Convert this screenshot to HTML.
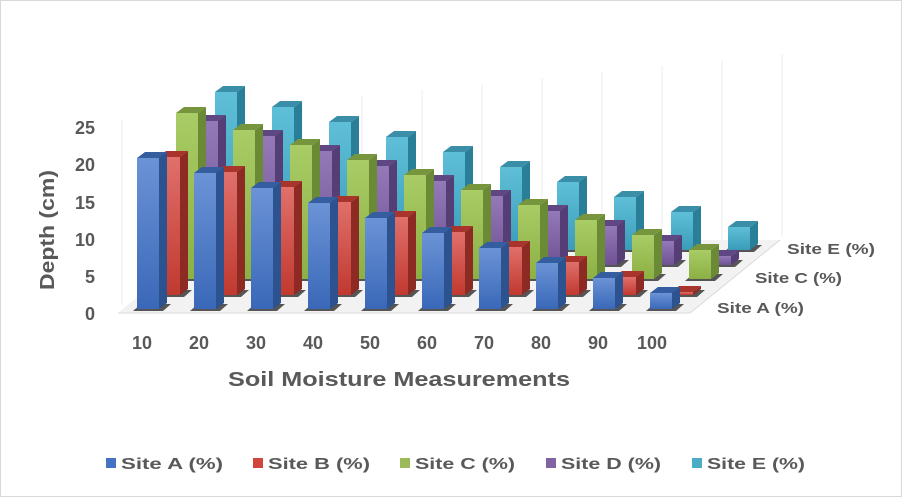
<!DOCTYPE html>
<html><head><meta charset="utf-8"><style>
html,body{margin:0;padding:0;background:#fff}
svg{display:block;font-family:"Liberation Sans",Arial,sans-serif}
</style></head><body>
<svg id="c" width="902" height="497" viewBox="0 0 902 497" xmlns="http://www.w3.org/2000/svg">
<defs>
<linearGradient id="gA" x1="0" y1="0" x2="0" y2="1"><stop offset="0" stop-color="#6b93d6"/><stop offset="1" stop-color="#3a68b8"/></linearGradient>
<linearGradient id="gB" x1="0" y1="0" x2="0" y2="1"><stop offset="0" stop-color="#e0706b"/><stop offset="1" stop-color="#c0392f"/></linearGradient>
<linearGradient id="gC" x1="0" y1="0" x2="0" y2="1"><stop offset="0" stop-color="#a9cc66"/><stop offset="1" stop-color="#8bb043"/></linearGradient>
<linearGradient id="gD" x1="0" y1="0" x2="0" y2="1"><stop offset="0" stop-color="#9479b8"/><stop offset="1" stop-color="#6e5293"/></linearGradient>
<linearGradient id="gE" x1="0" y1="0" x2="0" y2="1"><stop offset="0" stop-color="#5fbfd8"/><stop offset="1" stop-color="#3a9cb9"/></linearGradient>
</defs>
<rect x="0.5" y="0.5" width="901" height="496" fill="#fff" stroke="#d9d9d9"/>
<g id="grid" stroke="#ececec" stroke-width="1"></g>
<polygon points="118,313 690,313 780,240 205,240" fill="#f2f2f2"/>
<g id="bars"></g>
<line x1="118" y1="313" x2="690" y2="313" stroke="#d9d9d9"/>
<line x1="690" y1="313" x2="780" y2="240" stroke="#d9d9d9"/>
<g font-size="18" font-weight="bold" fill="#595959" text-anchor="end">
<text x="95" y="320">0</text><text x="95" y="283">5</text><text x="95" y="246">10</text>
<text x="95" y="209">15</text><text x="95" y="171">20</text><text x="95" y="134">25</text>
</g>
<text transform="translate(54,230) rotate(-90)" font-size="20" font-weight="bold" fill="#595959" text-anchor="middle" textLength="120" lengthAdjust="spacingAndGlyphs">Depth (cm)</text>
<g font-size="18" font-weight="bold" fill="#595959" text-anchor="middle">
<text x="142" y="349">10</text><text x="199" y="349">20</text><text x="256" y="349">30</text><text x="313" y="349">40</text><text x="370" y="349">50</text><text x="427" y="349">60</text><text x="484" y="349">70</text><text x="541" y="349">80</text><text x="598" y="349">90</text><text x="652" y="349">100</text>
</g>
<text x="228" y="386" font-size="20" font-weight="bold" fill="#595959" textLength="342" lengthAdjust="spacingAndGlyphs">Soil Moisture Measurements</text>
<g font-size="15" font-weight="bold" fill="#595959">
<text x="787" y="254" textLength="88" lengthAdjust="spacingAndGlyphs">Site E (%)</text>
<text x="755" y="283" textLength="87" lengthAdjust="spacingAndGlyphs">Site C (%)</text>
<text x="717" y="313" textLength="87" lengthAdjust="spacingAndGlyphs">Site A (%)</text>
</g>
<g font-size="16" font-weight="bold" fill="#595959">
<rect x="106" y="458" width="10" height="10" fill="#4472c4"/><text x="121" y="469" textLength="102" lengthAdjust="spacingAndGlyphs">Site A (%)</text>
<rect x="253" y="458" width="10" height="10" fill="#d0453c"/><text x="268" y="469" textLength="102" lengthAdjust="spacingAndGlyphs">Site B (%)</text>
<rect x="400" y="458" width="10" height="10" fill="#9bbb59"/><text x="415" y="469" textLength="100" lengthAdjust="spacingAndGlyphs">Site C (%)</text>
<rect x="546" y="458" width="10" height="10" fill="#8064a2"/><text x="561" y="469" textLength="100" lengthAdjust="spacingAndGlyphs">Site D (%)</text>
<rect x="692" y="458" width="10" height="10" fill="#4bacc6"/><text x="707" y="469" textLength="98" lengthAdjust="spacingAndGlyphs">Site E (%)</text>
</g>
</svg>
<script>
var ns="http://www.w3.org/2000/svg";
var g=document.getElementById("bars"),gr=document.getElementById("grid");
for(var k=0;k<12;k++){var l=document.createElementNS(ns,"line");
var xx=122+k*60, yb=305-k*6.2, yt=120-k*6;
l.setAttribute("x1",xx);l.setAttribute("x2",xx);l.setAttribute("y1",yt);l.setAttribute("y2",yb);gr.appendChild(l);}
var S=[
 {id:"E",x:215,b:250,top:function(i){return 92+15*i},side:"#2a7f98",tp:"#3b8ea8"},
 {id:"D",x:196,b:265,top:function(i){return 121+15*i},side:"#553d75",tp:"#5e4782"},
 {id:"C",x:176,b:279,top:function(i){return i==0?113:115+15*i},side:"#6b8a35",tp:"#76953c"},
 {id:"B",x:158,b:295,top:function(i){return Math.min(295,157+15*i)},side:"#8e2a24",tp:"#a8342c"},
 {id:"A",x:137,b:309,top:function(i){return 158+15*i},side:"#2c528f",tp:"#345e9f"}
];
function poly(p,f){var e=document.createElementNS(ns,"polygon");e.setAttribute("points",p);e.setAttribute("fill",f);g.appendChild(e);}
S.forEach(function(s){
 for(var i=0;i<10;i++){
  var x=s.x+57*i,w=22,b=s.b,t=s.top(i);
  if(t>b-2)t=b-2;
  poly((x-4)+","+(b+2)+" "+(x+w+4)+","+(b+2)+" "+(x+w+12)+","+(b-5)+" "+(x+4)+","+(b-5),"#555");
  poly((x+w)+","+t+" "+(x+w+8)+","+(t-6)+" "+(x+w+8)+","+(b-6)+" "+(x+w)+","+b,s.side);
  poly(x+","+t+" "+(x+8)+","+(t-6)+" "+(x+w+8)+","+(t-6)+" "+(x+w)+","+t,s.tp);
  var r=document.createElementNS(ns,"rect");r.setAttribute("x",x);r.setAttribute("y",t);r.setAttribute("width",w);r.setAttribute("height",b-t);r.setAttribute("fill","url(#g"+s.id+")");g.appendChild(r);
 }
});
</script>
</body></html>
